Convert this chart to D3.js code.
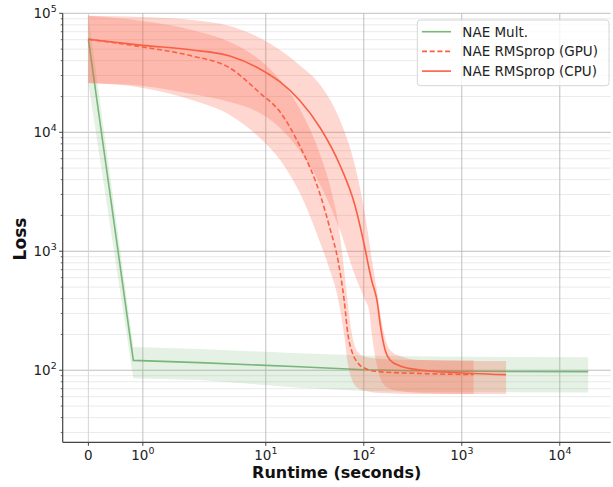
<!DOCTYPE html>
<html>
<head>
<meta charset="utf-8">
<script src="https://cdn.jsdelivr.net/npm/d3@7"></script>
<style>
  html, body { margin: 0; padding: 0; background: #fff; }
  svg { display: block; font-family: "DejaVu Sans", sans-serif; }
</style>
</head>
<body>
<svg id="chart" width="613" height="487"></svg>
<script>
// ---- data: runtime (seconds) vs. loss, mean with spread band ----
const multTime  = [0, 0.825, 2.1, 22, 100, 300, 1000, 19500];
const multLoss  = [60500, 121, 116, 107, 101, 99, 98, 97.3];
const multUpper = [95500, 157, 151, 139, 133, 131, 130, 128.6];
const multLower = [25900, 85.6, 82.9, 71.4, 67, 66, 65.5, 64.9];

const gpuTime  = [0, 1, 1.9, 4.3, 8.7, 14, 22, 36, 45, 55, 63, 69, 76, 87, 105, 146, 375, 1320];
const gpuLoss  = [60500, 52100, 43800, 34700, 21400, 14800, 7800, 2970, 1570, 810, 390, 198, 142, 115, 103, 97, 94, 92];
const gpuUpper = [95500, 86100, 72400, 57400, 40500, 27500, 16000, 6440, 3610, 1663, 697, 354, 198, 142, 129, 124.5, 122, 121];
const gpuLower = [25900, 23600, 18700, 14000, 8960, 5850, 3150, 1175, 697, 390, 198, 111, 83, 71, 67, 64.4, 63.2, 63.2];

const cpuTime  = [0, 1, 1.9, 4.3, 8.7, 14, 22, 36, 57, 81, 103, 113, 121, 136, 150, 165, 185, 234, 375, 1320, 2830];
const cpuLoss  = [60500, 53800, 49150, 43760, 34040, 26470, 18680, 10870, 5310, 2449, 1050, 720, 560, 390, 218, 148, 122, 108.6, 100.5, 94, 91.8];
const cpuUpper = [95500, 93100, 87850, 78200, 62000, 49150, 36800, 24970, 12690, 5310, 2018, 1245, 845, 473, 275, 187, 148, 131.9, 122, 119.7, 119.7];
const cpuLower = [25900, 24490, 20980, 17970, 14530, 10870, 7100, 3610, 1510, 632, 390, 321, 198, 111, 82.8, 73.8, 69.6, 66.9, 64.4, 63.2, 63.2];

const seriesNames = ["NAE Mult.", "NAE RMSprop (GPU)", "NAE RMSprop (CPU)"];
const xTickValues = [0, 1, 10, 100, 1000, 10000];
const yTickValues = [100, 1000, 10000, 100000];

// ---- layout ----
const svg = d3.select("#chart");
const plot = { left: 62.7, right: 610.7, top: 13.3, bottom: 442.3 };
const colGreen = "#78b77a";
const colRed = "#fa5f45";
const dashPattern = "5,2.7";

// symmetric-log transform (linear below |x| = 2, log10 above)
const linthresh = 2, linscale = 1, base = 10;
const linAdj = linscale / (1 - 1 / base);
function symT(a) {
  const m = Math.abs(a), s = Math.sign(a);
  return m <= linthresh ? a * linAdj : s * linthresh * (linAdj + Math.log10(m / linthresh));
}
const xLin = d3.scaleLinear().domain([-0.5245, 10.659]).range([plot.left, plot.right]);
const x = v => xLin(symT(v));
const y = d3.scaleLog().domain([24.8, 1e5]).range([plot.bottom, plot.top]);

// ---- grid ----
const minorY = [];
for (let e = 1; e <= 4; e++) for (let k = 2; k <= 9; k++) {
  const v = k * Math.pow(10, e);
  if (v >= y.domain()[0] && v <= y.domain()[1]) minorY.push(v);
}
const grid = svg.append("g");
grid.selectAll(".gmin").data(minorY).join("line")
  .attr("x1", plot.left).attr("x2", plot.right)
  .attr("y1", d => y(d)).attr("y2", d => y(d))
  .attr("stroke", "#e8e8e8").attr("stroke-width", 0.9);
grid.selectAll(".gy").data(yTickValues).join("line")
  .attr("x1", plot.left).attr("x2", plot.right)
  .attr("y1", d => y(d)).attr("y2", d => y(d))
  .attr("stroke", "#b8b8b8").attr("stroke-width", 0.9);
grid.selectAll(".gx").data(xTickValues).join("line")
  .attr("x1", d => x(d)).attr("x2", d => x(d))
  .attr("y1", plot.top).attr("y2", plot.bottom)
  .attr("stroke", d => d === 0 ? "#d0d0d0" : "#b8b8b8").attr("stroke-width", 0.9);

// ---- series ----
svg.append("clipPath").attr("id", "clip").append("rect")
  .attr("x", plot.left).attr("y", plot.top)
  .attr("width", plot.right - plot.left).attr("height", plot.bottom - plot.top);
const g = svg.append("g").attr("clip-path", "url(#clip)");

function drawSeries(t, mean, lo, hi, color, bandAlpha, dash, curve) {
  const pts = t.map((d, i) => ({ t: d, m: mean[i], lo: lo[i], hi: hi[i] }));
  g.append("path").datum(pts)
    .attr("d", d3.line().curve(curve).x(d => x(d.t)).y(d => y(d.m)))
    .attr("fill", "none").attr("stroke", color).attr("stroke-width", 1.6)
    .attr("stroke-dasharray", dash || null);
  g.append("path").datum(pts)
    .attr("d", d3.area().curve(curve).x(d => x(d.t)).y0(d => y(d.lo)).y1(d => y(d.hi)))
    .attr("fill", color).attr("fill-opacity", bandAlpha).attr("stroke", "none");
}
drawSeries(multTime, multLoss, multLower, multUpper, colGreen, 0.2, null, d3.curveLinear);
drawSeries(gpuTime, gpuLoss, gpuLower, gpuUpper, colRed, 0.25, dashPattern, d3.curveMonotoneX);
drawSeries(cpuTime, cpuLoss, cpuLower, cpuUpper, colRed, 0.25, null, d3.curveMonotoneX);

// ---- axes ----
const axisCol = "#444";
const ax = svg.append("g");
ax.append("line").attr("x1", plot.left).attr("x2", plot.left)
  .attr("y1", plot.top).attr("y2", plot.bottom).attr("stroke", axisCol).attr("stroke-width", 1.2);
ax.append("line").attr("x1", plot.left).attr("x2", plot.right)
  .attr("y1", plot.bottom).attr("y2", plot.bottom).attr("stroke", axisCol).attr("stroke-width", 1.2);

// y ticks
ax.selectAll(".ymin").data(minorY).join("line")
  .attr("x1", plot.left - 2).attr("x2", plot.left)
  .attr("y1", d => y(d)).attr("y2", d => y(d)).attr("stroke", axisCol).attr("stroke-width", 0.8);
ax.selectAll(".ymaj").data(yTickValues).join("line")
  .attr("x1", plot.left - 3.5).attr("x2", plot.left)
  .attr("y1", d => y(d)).attr("y2", d => y(d)).attr("stroke", axisCol).attr("stroke-width", 1);
const fs = 13.5;
ax.selectAll(".ylab").data(yTickValues).join("text")
  .attr("x", plot.left - 6).attr("y", d => y(d) + 5)
  .attr("text-anchor", "end").attr("font-size", fs).attr("fill", "#222")
  .each(function(d) {
    const t = d3.select(this);
    t.append("tspan").text("10");
    t.append("tspan").attr("dy", -6).attr("font-size", fs * 0.7).text(Math.round(Math.log10(d)));
  });

// x ticks
ax.selectAll(".xmaj").data(xTickValues).join("line")
  .attr("x1", d => x(d)).attr("x2", d => x(d))
  .attr("y1", plot.bottom).attr("y2", plot.bottom + 3.5).attr("stroke", axisCol).attr("stroke-width", 1);
ax.selectAll(".xlab").data(xTickValues).join("text")
  .attr("x", d => x(d)).attr("y", plot.bottom + 17.5)
  .attr("text-anchor", "middle").attr("font-size", fs).attr("fill", "#222")
  .each(function(d) {
    const t = d3.select(this);
    if (d === 0) { t.text("0"); return; }
    t.append("tspan").text("10");
    t.append("tspan").attr("dy", -6).attr("font-size", fs * 0.7).text(Math.round(Math.log10(d)));
  });

// axis titles
svg.append("text").attr("x", (plot.left + plot.right) / 2).attr("y", 478)
  .attr("text-anchor", "middle").attr("font-size", 16).attr("font-weight", "bold")
  .attr("fill", "#111").text("Runtime (seconds)");
svg.append("text").attr("transform", "translate(26," + 239 + ") rotate(-90)")
  .attr("text-anchor", "middle").attr("font-size", 17).attr("font-weight", "bold")
  .attr("fill", "#111").text("Loss");

// ---- legend ----
const lg = svg.append("g");
lg.append("rect").attr("x", 417.3).attr("y", 20).attr("width", 191.7).attr("height", 65.7)
  .attr("rx", 3).attr("fill", "#fff").attr("fill-opacity", 0.8)
  .attr("stroke", "#d6d6d6").attr("stroke-width", 1);
const legendItems = [
  { name: seriesNames[0], color: colGreen, dash: null },
  { name: seriesNames[1], color: colRed, dash: dashPattern },
  { name: seriesNames[2], color: colRed, dash: null }
];
legendItems.forEach((it, i) => {
  const yy = 31.7 + i * 19.7;
  lg.append("line").attr("x1", 422).attr("x2", 451).attr("y1", yy).attr("y2", yy)
    .attr("stroke", it.color).attr("stroke-width", 1.6).attr("stroke-dasharray", it.dash);
  lg.append("text").attr("x", 462.3).attr("y", yy + 5).attr("font-size", fs)
    .attr("fill", "#222").text(it.name);
});
</script>
</body>
</html>
